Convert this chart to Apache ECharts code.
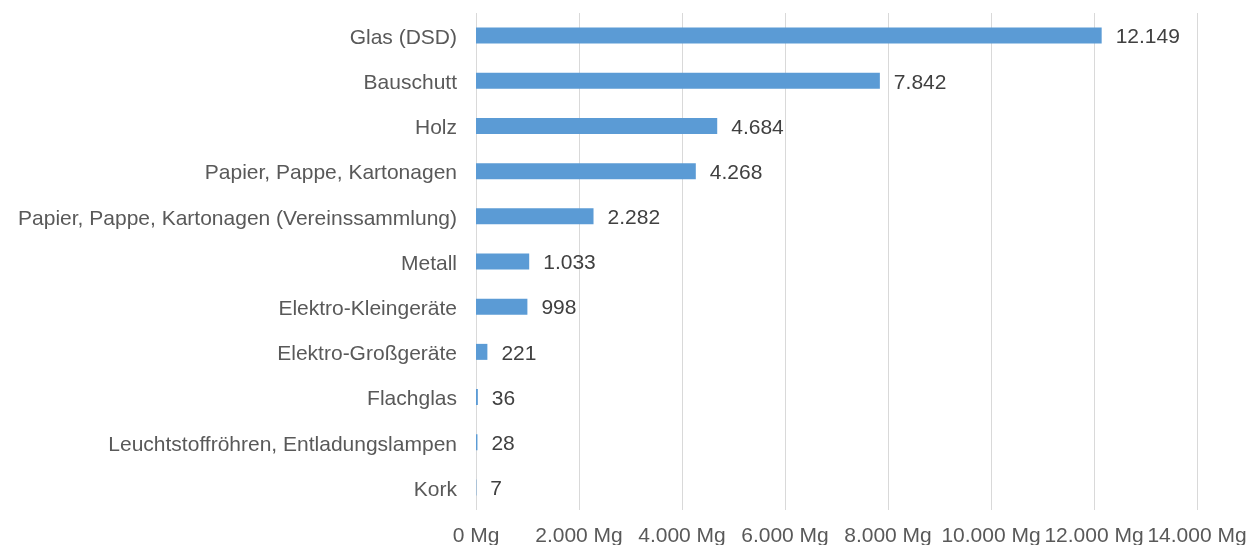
<!DOCTYPE html>
<html>
<head>
<meta charset="utf-8">
<script src="https://cdn.jsdelivr.net/npm/echarts@6/dist/echarts.min.js"></script>
<style>
  html, body { margin: 0; padding: 0; background: #fff; }
  #chart { width: 1250px; height: 545px; }
</style>
</head>
<body>
<div id="chart"></div>
<script>
// top to bottom as in the picture
const categories = [
  'Glas (DSD)',
  'Bauschutt',
  'Holz',
  'Papier, Pappe, Kartonagen',
  'Papier, Pappe, Kartonagen (Vereinssammlung)',
  'Metall',
  'Elektro-Kleingeräte',
  'Elektro-Großgeräte',
  'Flachglas',
  'Leuchtstoffröhren, Entladungslampen',
  'Kork',
];
const amounts = [12149, 7842, 4684, 4268, 2282, 1033, 998, 221, 36, 28, 7];

const fmt = (v) => String(v).replace(/\B(?=(\d{3})+(?!\d))/g, '.');

const chart = echarts.init(document.getElementById('chart'));

const option = {
  animation: false,
  textStyle: { fontFamily: '"Liberation Sans", Arial, sans-serif' },
  grid: { left: 476, right: 53, top: 13, bottom: 35, outerBoundsMode: 'none' },
  xAxis: {
    type: 'value',
    min: 0,
    max: 14000,
    interval: 2000,
    axisLine: { show: false },
    axisTick: { show: false },
    splitLine: { show: true, lineStyle: { color: '#d9d9d9', width: 1 } },
    axisLabel: {
      color: '#595959',
      fontSize: 21,
      margin: 16,
      formatter: (v) => fmt(v) + ' Mg',
    },
  },
  yAxis: {
    type: 'category',
    inverse: true,
    data: categories,
    axisLine: { show: false },
    axisTick: { show: false },
    axisLabel: {
      margin: 19,
      formatter: (v) => '{c|' + v + '}',
      rich: {
        c: { color: '#595959', fontSize: 21, padding: [5, 0, 0, 0] },
      },
    },
  },
  series: [
    {
      type: 'bar',
      data: amounts,
      barWidth: 16,
      itemStyle: { color: '#5b9bd5' },
      label: {
        show: true,
        position: 'right',
        distance: 14,
        offset: [0, 2],
        color: '#404040',
        fontSize: 21,
        formatter: (p) => fmt(p.value),
      },
    },
  ],
};

chart.setOption(option);
</script>
</body>
</html>
